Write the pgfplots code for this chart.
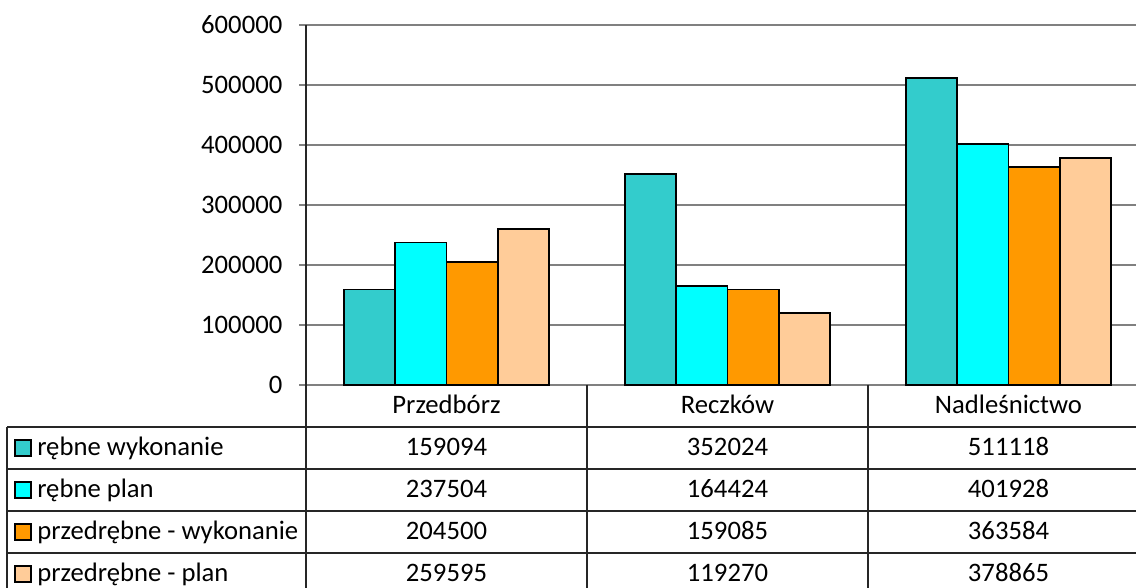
\documentclass[border=0pt]{standalone}
\usepackage{pgfplots}
\pgfplotsset{compat=1.18}
\usepackage{fontspec}
\setmainfont{Carlito}
\definecolor{c1}{HTML}{33CCCC}
\definecolor{c2}{HTML}{00FFFF}
\definecolor{c3}{HTML}{FF9900}
\definecolor{c4}{HTML}{FFCC99}
\definecolor{gridc}{HTML}{808080}
\begin{document}
\begin{tikzpicture}[font=\fontsize{20}{24}\selectfont]
\path[use as bounding box] (0,0) rectangle (852pt,441pt);
\begin{axis}[
  at={(229.5pt,152.25pt)}, anchor=south west,
  scale only axis, width=622.5pt, height=270pt,
  xmin=-0.5, xmax=2.4537, ymin=0, ymax=600000,
  ytick={0,100000,200000,300000,400000,500000,600000},
  yticklabels={0,100000,200000,300000,400000,500000,600000},
  xtick=\empty,
  axis line style={draw=none},
  ymajorgrids, grid style={gridc, line width=1.1pt},
  tick align=outside, major tick length=5.25pt,
  ytick style={gridc, line width=1.1pt},
  scaled y ticks=false,
  yticklabel style={font=\fontsize{20}{24}\selectfont, xshift=-9pt},
  ybar=0pt, bar width=0.1824,
  clip=false,
]
\addplot[fill=c1, draw=black, line width=1.4pt] coordinates {(0,159094) (1,352024) (2,511118)};
\addplot[fill=c2, draw=black, line width=1.4pt] coordinates {(0,237504) (1,164424) (2,401928)};
\addplot[fill=c3, draw=black, line width=1.4pt] coordinates {(0,204500) (1,159085) (2,363584)};
\addplot[fill=c4, draw=black, line width=1.4pt] coordinates {(0,259595) (1,119270) (2,378865)};
\end{axis}
\begin{scope}[shift={(0pt,441pt)}, x=0.75pt, y=-0.75pt]
  % table lines
  \draw[black!85, line width=0.8pt] (306,25) -- (306,600);
  \foreach \xx in {587,868} \draw[black!85, line width=0.8pt] (\xx,385) -- (\xx,600);
  \draw[black!85, line width=0.8pt] (7,427) -- (7,600);
  \foreach \yy in {427,469,511,553} \draw[black!85, line width=0.8pt] (7,\yy) -- (1136,\yy);
  % header
  \node[anchor=base, inner sep=0pt] at (446.5,414) {Przedbórz};
  \node[anchor=base, inner sep=0pt] at (727.5,414) {Reczków};
  \node[anchor=base, inner sep=0pt] at (1008.5,414) {Nadleśnictwo};
  % legend keys
  \foreach \c/\yy in {c1/448,c2/490,c3/532,c4/574} {
    \draw[fill=\c, draw=black, line width=1.2pt] (15,\yy-8) rectangle (31,\yy+8);
  }
  \node[anchor=base west, inner sep=0pt] at (37,456) {rębne wykonanie};
  \node[anchor=base west, inner sep=0pt] at (37,498) {rębne plan};
  \node[anchor=base west, inner sep=0pt] at (37,540) {przedrębne - wykonanie};
  \node[anchor=base west, inner sep=0pt] at (37,582) {przedrębne - plan};
  % values
  \foreach \v/\xx/\yy in {159094/446.5/456, 352024/727.5/456, 511118/1008.5/456,
                         237504/446.5/498, 164424/727.5/498, 401928/1008.5/498,
                         204500/446.5/540, 159085/727.5/540, 363584/1008.5/540,
                         259595/446.5/582, 119270/727.5/582, 378865/1008.5/582}
    \node[anchor=base, inner sep=0pt] at (\xx,\yy) {\v};
\end{scope}
\end{tikzpicture}
\end{document}
